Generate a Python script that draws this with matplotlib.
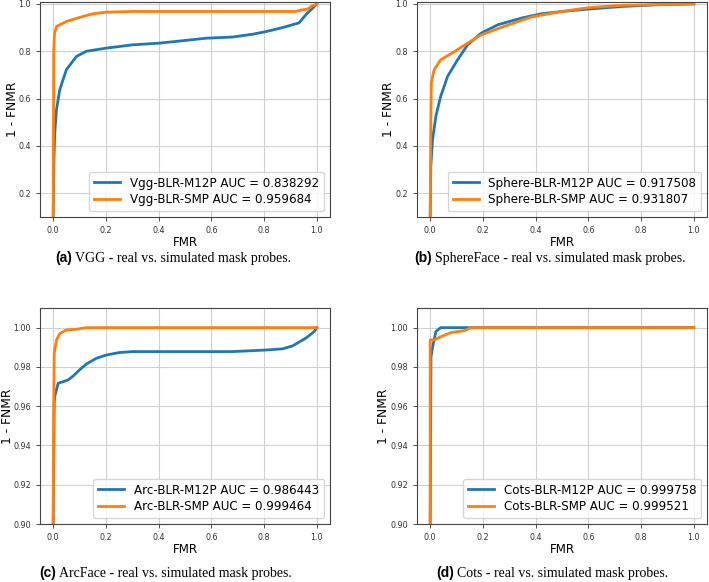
import matplotlib
matplotlib.use("Agg")
import matplotlib.pyplot as plt

BLUE = "#1f77b4"
ORANGE = "#ff7f0e"

# (a) VGG
vgg_m12p_fmr = [0.0, 0.003, 0.006, 0.0126, 0.025, 0.05, 0.088, 0.126, 0.2, 0.30, 0.40, 0.504,
                0.58, 0.68, 0.757, 0.807, 0.87, 0.933, 0.958, 0.984, 1.0]
vgg_m12p_tpr = [0.1, 0.35, 0.455, 0.554, 0.638, 0.722, 0.778, 0.80, 0.813, 0.827, 0.834, 0.846,
                0.855, 0.86, 0.872, 0.883, 0.90, 0.92, 0.954, 0.982, 1.0]
vgg_smp_fmr = [0.0, 0.002, 0.005, 0.013, 0.05, 0.113, 0.15, 0.2, 0.3, 0.6, 0.92, 0.945, 0.965,
               0.98, 1.0]
vgg_smp_tpr = [0.1, 0.80, 0.876, 0.905, 0.926, 0.947, 0.958, 0.965, 0.968, 0.968, 0.968, 0.975,
               0.978, 0.99, 1.0]

# (b) SphereFace
sph_m12p_fmr = [0.0, 0.0025, 0.009, 0.0216, 0.04, 0.066, 0.104, 0.142, 0.193, 0.257, 0.346,
                0.42, 0.5, 0.6, 0.727, 0.854, 1.0]
sph_m12p_tpr = [0.1, 0.315, 0.427, 0.526, 0.61, 0.694, 0.764, 0.827, 0.876, 0.912, 0.94,
                0.958, 0.968, 0.978, 0.989, 0.996, 1.0]
sph_smp_fmr = [0.0, 0.002, 0.004, 0.015, 0.04, 0.09, 0.142, 0.193, 0.28, 0.384, 0.5, 0.6,
               0.727, 1.0]
sph_smp_tpr = [0.1, 0.45, 0.666, 0.722, 0.764, 0.797, 0.834, 0.869, 0.905, 0.945, 0.968,
               0.984, 0.994, 1.0]

# (c) ArcFace
arc_m12p_fmr = [0.0, 0.004, 0.006, 0.019, 0.038, 0.057, 0.076, 0.1, 0.126, 0.164, 0.2, 0.25,
                0.3, 0.68, 0.807, 0.87, 0.908, 0.958, 0.99, 1.0]
arc_m12p_tpr = [0.9, 0.962, 0.965, 0.9717, 0.9725, 0.9734, 0.9754, 0.9785, 0.9815, 0.9844,
                0.986, 0.9873, 0.9878, 0.9878, 0.9886, 0.9892, 0.9907, 0.9946, 0.998, 1.0]
arc_smp_fmr = [0.0, 0.002, 0.004, 0.0126, 0.025, 0.05, 0.088, 0.126, 1.0]
arc_smp_tpr = [0.9, 0.96, 0.987, 0.9937, 0.997, 0.9988, 0.9992, 1.0, 1.0]

# (d) Cots
cots_m12p_fmr = [0.0, 0.003, 0.009, 0.0216, 0.04, 1.0]
cots_m12p_tpr = [0.9, 0.985, 0.990, 0.998, 1.0, 1.0]
cots_smp_fmr = [0.0, 0.0, 0.015, 0.04, 0.079, 0.13, 0.155, 1.0]
cots_smp_tpr = [0.9, 0.9937, 0.9937, 0.9954, 0.9975, 0.9985, 1.0, 1.0]

x_ticks = [0.0, 0.2, 0.4, 0.6, 0.8, 1.0]
y_ticks_top = [0.2, 0.4, 0.6, 0.8, 1.0]
y_ticks_bottom = [0.90, 0.92, 0.94, 0.96, 0.98, 1.00]

panels = [
    ("Vgg", (vgg_m12p_fmr, vgg_m12p_tpr, 0.838292), (vgg_smp_fmr, vgg_smp_tpr, 0.959684),
     (0.1, 1.008), y_ticks_top, "%.1f",
     "(a)", "VGG - real vs. simulated mask probes."),
    ("Sphere", (sph_m12p_fmr, sph_m12p_tpr, 0.917508), (sph_smp_fmr, sph_smp_tpr, 0.931807),
     (0.1, 1.008), y_ticks_top, "%.1f",
     "(b)", "SphereFace - real vs. simulated mask probes."),
    ("Arc", (arc_m12p_fmr, arc_m12p_tpr, 0.986443), (arc_smp_fmr, arc_smp_tpr, 0.999464),
     (0.9, 1.01), y_ticks_bottom, "%.2f",
     "(c)", "ArcFace - real vs. simulated mask probes."),
    ("Cots", (cots_m12p_fmr, cots_m12p_tpr, 0.999758), (cots_smp_fmr, cots_smp_tpr, 0.999521),
     (0.9, 1.01), y_ticks_bottom, "%.2f",
     "(d)", "Cots - real vs. simulated mask probes."),
]

W, H = 709, 582
axes_px = [(40, 2, 290, 215), (417, 2, 290, 215), (40, 308, 290, 216), (417, 308, 290, 216)]
ylabel_x = [-0.071, -0.076, -0.09, -0.093]
caption_px = [(55, 262), (414, 262), (39, 577), (436, 577)]

fig = plt.figure(figsize=(W / 100, H / 100), dpi=100)
for (name, m12p, smp, ylim, yticks, yfmt, tag, cap), (x, y, w, h), ylx, (cx, cy) in zip(
        panels, axes_px, ylabel_x, caption_px):
    ax = fig.add_axes([x / W, 1 - (y + h) / H, w / W, h / H])
    ax.plot(m12p[0], m12p[1], color=BLUE, lw=2,
            label=f"{name}-BLR-M12P AUC = {m12p[2]:.6f}")
    ax.plot(smp[0], smp[1], color=ORANGE, lw=2,
            label=f"{name}-BLR-SMP AUC = {smp[2]:.6f}")
    ax.set_xlim(-0.05, 1.05)
    ax.set_ylim(*ylim)
    ax.set_xticks(x_ticks)
    ax.set_xticklabels(["%.1f" % v for v in x_ticks])
    ax.set_yticks(yticks)
    ax.set_yticklabels([yfmt % v for v in yticks])
    ax.tick_params(labelsize=5.8, colors="#333333", length=3, width=0.6)
    for s in ax.spines.values():
        s.set_color("#444444")
        s.set_linewidth(0.8)
    ax.grid(True, color="#d0d0d0", lw=0.8)
    ax.set_xlabel("FMR", fontsize=8.6, labelpad=1)
    ax.set_ylabel("1 - FNMR", fontsize=8.8)
    ax.yaxis.set_label_coords(ylx, 0.5)
    ax.legend(loc="lower right", fontsize=8.6, handlelength=2.2, borderpad=0.4,
              labelspacing=0.3)
    t = fig.text(cx / W, 1 - cy / H, tag, fontsize=10, fontweight="bold",
                 family="Liberation Sans", va="baseline", ha="left")
    ax.annotate(cap, xy=(1, 0), xycoords=t, xytext=(2, 0), textcoords="offset points",
                fontsize=10, family="Liberation Serif", va="bottom", ha="left",
                annotation_clip=False)

fig.savefig("out.png", dpi=100)
